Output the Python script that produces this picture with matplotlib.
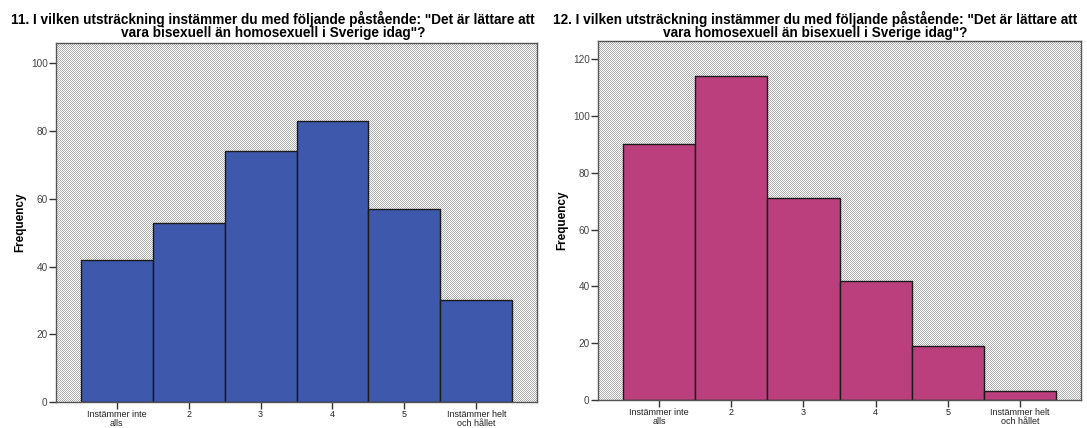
import numpy as np
import matplotlib
matplotlib.use("Agg")
import matplotlib.pyplot as plt

plt.rcParams['font.family'] = ['Liberation Sans', 'DejaVu Sans']

categories = ["Instämmer inte\nalls", "2", "3", "4", "5", "Instämmer helt\noch hållet"]
freq_q11 = [42, 53, 74, 83, 57, 30]
freq_q12 = [90, 114, 71, 42, 19, 3]
title_q11 = '11. I vilken utsträckning instämmer du med följande påstående: "Det är lättare att\nvara bisexuell än homosexuell i Sverige idag"?'
title_q12 = '12. I vilken utsträckning instämmer du med följande påstående: "Det är lättare att\nvara homosexuell än bisexuell i Sverige idag"?'
yticks_q11 = [0, 20, 40, 60, 80, 100]
yticks_q12 = [0, 20, 40, 60, 80, 100, 120]

W, H = 1087, 428
fig = plt.figure(figsize=(W / 100, H / 100), dpi=100)


def make_axes(l, r, t, b):
    ax = fig.add_axes([l / W, 1 - b / H, (r - l) / W, (b - t) / H])
    ax.set_facecolor('none')
    # pixel-exact checker background behind the axes
    wpx, hpx = r - l, b - t
    yy, xx = np.mgrid[0:hpx, 0:wpx]
    pat = (xx + yy) % 2
    img = np.where(pat[..., None] == 1, np.array([0.68, 0.68, 0.68]), np.array([1.0, 1.0, 1.0]))
    fig.figimage(img, xo=l, yo=H - b, origin='upper', zorder=-1)
    return ax


def draw(ax, vals, color, yticks, ymax, title, title_x, label_x):
    x = np.arange(1, len(vals) + 1)
    ax.bar(x, vals, width=1.0, color=color, edgecolor='#1a1a1a', linewidth=1.0, zorder=2)
    ax.set_xlim(0.157, len(vals) + 0.843)
    ax.set_ylim(0, ymax)
    ax.set_xticks(x)
    ax.set_xticklabels(categories, fontsize=6.5, color='#222222', linespacing=0.95)
    ax.set_yticks(yticks)
    ax.set_yticklabels([str(v) for v in yticks], fontsize=7.2, color='#444444')
    ax.tick_params(axis='both', direction='out', length=5, width=1, color='#333333', pad=1)
    for s in ax.spines.values():
        s.set_color('#555555')
        s.set_linewidth(1)
    ax.set_ylabel('Frequency', fontsize=8.5, fontweight='bold')
    bb = ax.get_position()
    ax.yaxis.set_label_coords((label_x - bb.x0 * W) / (bb.width * W), 0.5)
    fig.text(title_x / W, 1 - 11 / H, title, ha='center', va='top', fontsize=9.85,
             fontweight='bold', linespacing=0.92)


ax1 = make_axes(56, 537, 43, 402)
ax2 = make_axes(598, 1081, 41, 400)
draw(ax1, freq_q11, '#3e58ac', yticks_q11, 106, title_q11, 273, 26)
draw(ax2, freq_q12, '#bb3e7d', yticks_q12, 126.4, title_q12, 815, 568)

fig.savefig('out.png', dpi=100)
